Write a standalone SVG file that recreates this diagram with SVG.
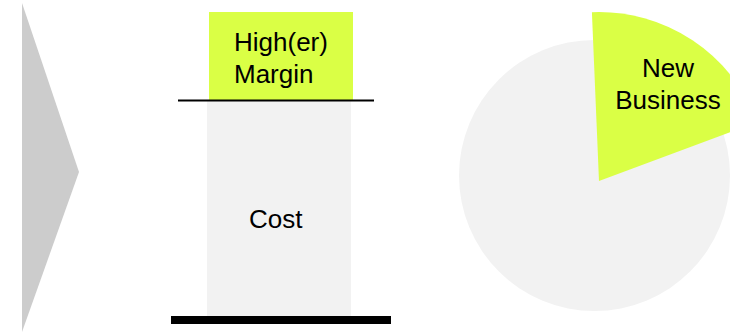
<svg xmlns="http://www.w3.org/2000/svg" width="730" height="332" viewBox="0 0 730 332">
<style>
.lbl{font-family:"Liberation Sans",Arial,sans-serif;font-size:26px;fill:#000}
.hi{fill:#DAFF45}
.gr{fill:#F2F2F2}
</style>
<rect width="730" height="332" fill="#fff"/>
<g id="arrow"><polygon points="22,3 79,172 22,332" fill="#CCCCCC"/></g>
<g id="cost"><rect class="gr" x="207" y="101" width="144" height="215"/><text class="lbl" x="249" y="228">Cost</text></g>
<g id="margin"><rect class="hi" x="209" y="12" width="144" height="88"/><text class="lbl" x="234" y="51">High(er)</text><text class="lbl" x="234" y="83">Margin</text></g>
<g id="connectors">
<line x1="178" y1="100.5" x2="374" y2="100.5" stroke="#000" stroke-width="2"/>
<rect x="171" y="316" width="220" height="8" fill="#000"/>
</g>
<g id="pie"><circle class="gr" cx="594.5" cy="175.5" r="135.5"/></g>
<g id="newbusiness"><path class="hi" d="M599,181 L591.9,12.15 A169,169 0 0 1 757.4,122.1 Z"/><text class="lbl" x="668" y="77" text-anchor="middle">New</text><text class="lbl" x="668" y="109" text-anchor="middle">Business</text></g>
</svg>
